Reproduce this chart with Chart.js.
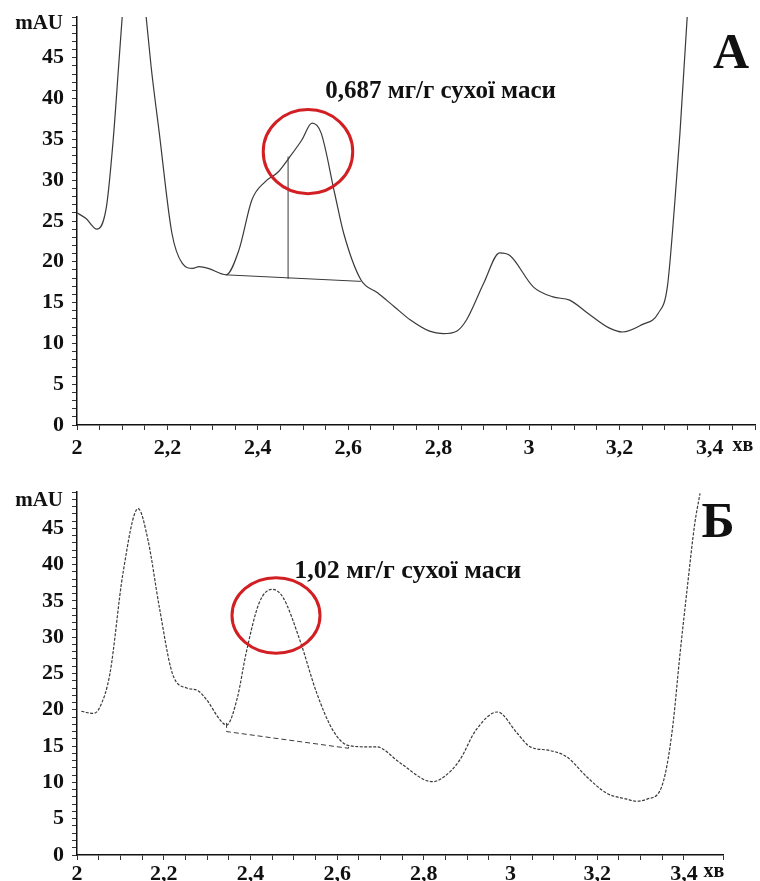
<!DOCTYPE html>
<html>
<head>
<meta charset="utf-8">
<script src="https://cdn.jsdelivr.net/npm/chart.js@4"></script>
<style>
    html, body { margin: 0; padding: 0; background: #fff; }
    .panel { position: absolute; left: 0; width: 760px; }
    #panelA { top: 0; height: 460px; }
    #panelB { top: 460px; height: 421px; }
</style>
</head>
<body>
<div class="panel" id="panelA"><canvas id="chartA" width="760" height="460"></canvas></div>
<div class="panel" id="panelB"><canvas id="chartB" width="760" height="421"></canvas></div>
<script>
// Panel А: retention time (min) and absorbance (mAU)
const timeA = [2.0, 2.02, 2.044, 2.065, 2.08, 2.092, 2.10, 2.125, 2.153, 2.164, 2.182, 2.21, 2.233, 2.256, 2.27, 2.29, 2.33,
    2.358, 2.387, 2.416, 2.445, 2.47, 2.497, 2.52, 2.54, 2.57, 2.59, 2.628, 2.665, 2.702, 2.737, 2.78, 2.81, 2.84, 2.862,
    2.90, 2.935, 2.957, 3.01, 3.053, 3.09, 3.13, 3.177, 3.207, 3.25, 3.286, 3.306, 3.323, 3.334, 3.35, 3.37];
const signalA = [26, 25.3, 24, 26.7, 34.9, 43.9, 50, 68, 50, 43.9, 35.8, 23.5, 19.8, 19.2, 19.4, 19.2, 18.4,
    21.4, 27.6, 29.8, 31, 32.8, 34.9, 37.0, 35.8, 28.4, 23.5, 17.8, 16.2, 14.5, 12.9, 11.5, 11.2, 11.5, 12.9,
    17.4, 21.1, 20.8, 16.9, 15.7, 15.3, 13.7, 11.9, 11.4, 12.3, 13.7, 16.9, 27.6, 35.8, 50, 70];
const baseTimeA = [2.33, 2.628];
const baseSignalA = [18.4, 17.6];
const dropTimeA = [2.467, 2.467];
const dropSignalA = [17.9, 32.9];

// Panel Б
const timeB = [2.01, 2.037, 2.053, 2.076, 2.106, 2.141, 2.164, 2.19, 2.22, 2.253, 2.277, 2.30, 2.33, 2.345,
    2.37, 2.39, 2.42, 2.45, 2.475, 2.514, 2.553, 2.59, 2.625, 2.668, 2.69, 2.745, 2.80, 2.82, 2.845, 2.883, 2.92,
    2.97, 3.015, 3.045, 3.09, 3.13, 3.177, 3.222, 3.268, 3.29, 3.315, 3.345, 3.36, 3.375, 3.39, 3.407, 3.425, 3.437];
const signalB = [19.8, 19.5, 20.4, 25, 38.8, 47.7, 43.3, 34.1, 25, 23, 22.7, 21.3, 18.6, 17.9,
    21.7, 27.8, 34.7, 36.6, 35.5, 29.6, 22.3, 17.2, 15.1, 14.9, 14.9, 12.7, 10.4, 10.1, 10.7, 13.1, 17.2,
    19.7, 16.8, 14.9, 14.4, 13.5, 10.7, 8.5, 7.7, 7.4, 7.7, 8.9, 12.1, 18.2, 27.2, 36.5, 45.7, 49.8];
const baseTimeB = [2.345, 2.345, 2.626, 2.626];
const baseSignalB = [18.2, 17.0, 14.7, 15.2];

const xTickLabels = [2, 2.2, 2.4, 2.6, 2.8, 3, 3.2, 3.4];
const yTickLabels = [0, 5, 10, 15, 20, 25, 30, 35, 40, 45];

const SERIF = '"Liberation Serif", "Times New Roman", serif';

function toPoints(xs, ys) {
    return xs.map((x, i) => ({ x, y: ys[i] }));
}

// ellipse, note text, panel letter and axis units
const annotationPlugin = {
    id: 'chromNotes',
    afterDatasetsDraw(chart, args, opts) {
        const ctx = chart.ctx;
        const xs = chart.scales.x;
        const ys = chart.scales.y;
        const area = chart.chartArea;
        ctx.save();

        // red circle round the peak
        const e = opts.ellipse;
        const cx = xs.getPixelForValue(e.x);
        const cy = ys.getPixelForValue(e.y);
        const rx = Math.abs(xs.getPixelForValue(e.x + e.dx) - cx);
        const ry = Math.abs(ys.getPixelForValue(e.y + e.dy) - cy);
        ctx.beginPath();
        ctx.ellipse(cx, cy, rx, ry, 0, 0, Math.PI * 2);
        ctx.strokeStyle = '#d21f23';
        ctx.lineWidth = 3;
        ctx.stroke();

        // content note
        ctx.fillStyle = '#111';
        ctx.font = 'bold ' + opts.noteSize + 'px ' + SERIF;
        ctx.textAlign = 'left';
        ctx.textBaseline = 'alphabetic';
        ctx.fillText(opts.note.text, xs.getPixelForValue(opts.note.x), ys.getPixelForValue(opts.note.y));

        // panel letter
        ctx.font = 'bold 50px ' + SERIF;
        ctx.textAlign = 'center';
        ctx.fillText(opts.letter, opts.letterX, opts.letterY);

        // axis units
        ctx.font = 'bold 21px ' + SERIF;
        ctx.textAlign = 'right';
        ctx.textBaseline = 'middle';
        ctx.fillText('mAU', area.left - 14, area.top + opts.mauOffset);

        ctx.font = 'bold 20px ' + SERIF;
        ctx.textAlign = 'center';
        ctx.textBaseline = 'top';
        ctx.fillText('хв', xs.getPixelForValue(3.4) + opts.unitOffset, area.bottom + opts.unitTop);
        ctx.restore();
    }
};

function buildChart(canvasId, cfg) {
    const lineSet = (data, dash, width) => ({
        data,
        showLine: true,
        borderColor: '#3a3a3a',
        borderWidth: width,
        borderDash: dash,
        pointRadius: 0,
        fill: false
    });

    const curve = lineSet(toPoints(cfg.time, cfg.signal), cfg.dash, 1.2);
    curve.cubicInterpolationMode = 'monotone';

    const datasets = [curve].concat(cfg.extra.map(d => lineSet(toPoints(d[0], d[1]), d[2], 1)));

    return new Chart(document.getElementById(canvasId).getContext('2d'), {
        type: 'scatter',
        data: { datasets },
        options: {
            responsive: false,
            animation: false,
            layout: { padding: { top: cfg.top, left: 0, right: cfg.right, bottom: 0 } },
            plugins: {
                legend: { display: false },
                tooltip: { enabled: false },
                chromNotes: cfg.notes
            },
            scales: {
                x: {
                    type: 'linear',
                    min: 2,
                    max: cfg.xMax,
                    afterFit: s => { s.height = cfg.xAxisHeight; },
                    border: { color: '#111', width: 1.5 },
                    grid: { drawOnChartArea: false, tickLength: 5, tickColor: '#333' },
                    ticks: {
                        stepSize: 0.05,
                        maxTicksLimit: 200,
                        autoSkip: false,
                        maxRotation: 0,
                        padding: cfg.xPad,
                        color: '#111',
                        font: { family: SERIF, weight: 'bold', size: 22 },
                        callback: v => {
                            const hit = xTickLabels.find(t => Math.abs(t - v) < 1e-6);
                            return hit === undefined ? '' : String(hit).replace('.', ',');
                        }
                    }
                },
                y: {
                    type: 'linear',
                    min: 0,
                    max: 50,
                    afterFit: s => {
                        s.width = 77;
                        s.paddingTop = 0;
                        s.paddingBottom = 0;
                    },
                    border: { color: '#111', width: 1.5 },
                    grid: { drawOnChartArea: false, tickLength: 5, tickColor: '#333' },
                    ticks: {
                        stepSize: 1,
                        maxTicksLimit: 200,
                        autoSkip: false,
                        padding: 8,
                        color: '#111',
                        font: { family: SERIF, weight: 'bold', size: 22 },
                        callback: v => yTickLabels.includes(v) ? String(v) : ''
                    }
                }
            }
        },
        plugins: [annotationPlugin]
    });
}

buildChart('chartA', {
    time: timeA,
    signal: signalA,
    dash: [],
    extra: [[baseTimeA, baseSignalA, []], [dropTimeA, dropSignalA, []]],
    xMax: 3.5,
    top: 17,
    right: 0,
    xAxisHeight: 35,
    xPad: 5,
    notes: {
        ellipse: { x: 2.511, y: 33.5, dx: 0.099, dy: 5.15 },
        note: { x: 2.549, y: 40.1, text: '0,687 мг/г сухої маси' },
        noteSize: 25,
        letter: 'А',
        letterX: 731,
        letterY: 68,
        mauOffset: 7,
        unitOffset: 33,
        unitTop: 11
    }
});

buildChart('chartB', {
    time: timeB,
    signal: signalB,
    dash: [3, 1.5],
    extra: [[baseTimeB, baseSignalB, [5, 3]]],
    xMax: 3.49,
    top: 32,
    right: 37,
    xAxisHeight: 26,
    xPad: 1,
    notes: {
        ellipse: { x: 2.459, y: 33.0, dx: 0.1015, dy: 5.2 },
        note: { x: 2.501, y: 38.2, text: '1,02 мг/г сухої маси' },
        noteSize: 26,
        letter: 'Б',
        letterX: 718,
        letterY: 77,
        mauOffset: 9,
        unitOffset: 30,
        unitTop: 7
    }
});
</script>
</body>
</html>
